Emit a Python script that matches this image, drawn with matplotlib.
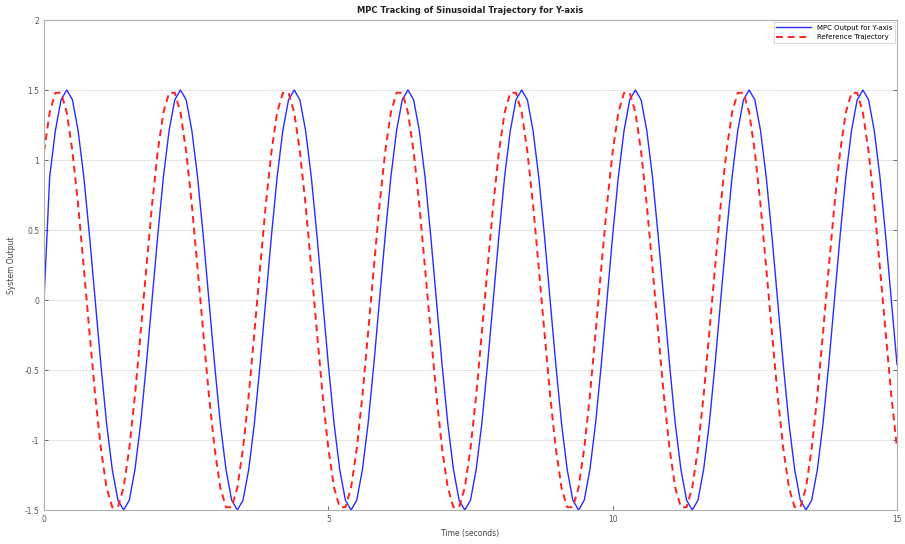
import numpy as np
import matplotlib
matplotlib.use("Agg")
import matplotlib.pyplot as plt

# Sample time grid (seconds)
t_start, t_end, n_samples = 0.0, 15.0, 151

# MPC output for Y-axis (0.1 s sampling)
mpc_output = [
    0.00, 0.88, 1.21, 1.43, 1.50, 1.43, 1.21, 0.88, 0.46, 0.00, -0.46, -0.88, -1.21, -1.43, -1.50, -1.43, -1.21, -0.88, -0.46, 0.00,
    0.46, 0.88, 1.21, 1.43, 1.50, 1.43, 1.21, 0.88, 0.46, 0.00, -0.46, -0.88, -1.21, -1.43, -1.50, -1.43, -1.21, -0.88, -0.46, 0.00,
    0.46, 0.88, 1.21, 1.43, 1.50, 1.43, 1.21, 0.88, 0.46, 0.00, -0.46, -0.88, -1.21, -1.43, -1.50, -1.43, -1.21, -0.88, -0.46, 0.00,
    0.46, 0.88, 1.21, 1.43, 1.50, 1.43, 1.21, 0.88, 0.46, 0.00, -0.46, -0.88, -1.21, -1.43, -1.50, -1.43, -1.21, -0.88, -0.46, 0.00,
    0.46, 0.88, 1.21, 1.43, 1.50, 1.43, 1.21, 0.88, 0.46, 0.00, -0.46, -0.88, -1.21, -1.43, -1.50, -1.43, -1.21, -0.88, -0.46, 0.00,
    0.46, 0.88, 1.21, 1.43, 1.50, 1.43, 1.21, 0.88, 0.46, 0.00, -0.46, -0.88, -1.21, -1.43, -1.50, -1.43, -1.21, -0.88, -0.46, 0.00,
    0.46, 0.88, 1.21, 1.43, 1.50, 1.43, 1.21, 0.88, 0.46, 0.00, -0.46, -0.88, -1.21, -1.43, -1.50, -1.43, -1.21, -0.88, -0.46, 0.00,
    0.46, 0.88, 1.21, 1.43, 1.50, 1.43, 1.21, 0.88, 0.46, 0.00, -0.46,
]

# Reference trajectory (0.1 s sampling)
reference = [
    1.06, 1.34, 1.48, 1.48, 1.34, 1.06, 0.68, 0.23, -0.23, -0.68, -1.06, -1.34, -1.48, -1.48, -1.34, -1.06, -0.68, -0.23, 0.23, 0.68,
    1.06, 1.34, 1.48, 1.48, 1.34, 1.06, 0.68, 0.23, -0.23, -0.68, -1.06, -1.34, -1.48, -1.48, -1.34, -1.06, -0.68, -0.23, 0.23, 0.68,
    1.06, 1.34, 1.48, 1.48, 1.34, 1.06, 0.68, 0.23, -0.23, -0.68, -1.06, -1.34, -1.48, -1.48, -1.34, -1.06, -0.68, -0.23, 0.23, 0.68,
    1.06, 1.34, 1.48, 1.48, 1.34, 1.06, 0.68, 0.23, -0.23, -0.68, -1.06, -1.34, -1.48, -1.48, -1.34, -1.06, -0.68, -0.23, 0.23, 0.68,
    1.06, 1.34, 1.48, 1.48, 1.34, 1.06, 0.68, 0.23, -0.23, -0.68, -1.06, -1.34, -1.48, -1.48, -1.34, -1.06, -0.68, -0.23, 0.23, 0.68,
    1.06, 1.34, 1.48, 1.48, 1.34, 1.06, 0.68, 0.23, -0.23, -0.68, -1.06, -1.34, -1.48, -1.48, -1.34, -1.06, -0.68, -0.23, 0.23, 0.68,
    1.06, 1.34, 1.48, 1.48, 1.34, 1.06, 0.68, 0.23, -0.23, -0.68, -1.06, -1.34, -1.48, -1.48, -1.34, -1.06, -0.68, -0.23, 0.23, 0.68,
    1.06, 1.34, 1.48, 1.48, 1.34, 1.06, 0.68, 0.23, -0.23, -0.68, -1.06,
]

x_ticks = [0, 5, 10, 15]
y_ticks = [-1.5, -1, -0.5, 0, 0.5, 1, 1.5, 2]
y_tick_labels = ["-1.5", "-1", "-0.5", "0", "0.5", "1", "1.5", "2"]

title = "MPC Tracking of Sinusoidal Trajectory for Y-axis"
xlabel = "Time (seconds)"
ylabel = "System Output"
series_labels = ["MPC Output for Y-axis", "Reference Trajectory"]

time = np.linspace(t_start, t_end, n_samples)

fig = plt.figure(figsize=(9.05, 5.44), dpi=100)
ax = fig.add_axes([44 / 905, 1 - 510 / 544, 853 / 905, 490 / 544])

ax.plot(time, mpc_output, color="#2b2bff", lw=1.0, label=series_labels[0])
ax.plot(time, reference, color="#ff2020", lw=1.4, ls=(0, (3.5, 2.5)), label=series_labels[1])

ax.set_xlim(0, 15)
ax.set_ylim(-1.5, 2)
ax.set_xticks(x_ticks)
ax.set_xticklabels([str(v) for v in x_ticks])
ax.set_yticks(y_ticks)
ax.set_yticklabels(y_tick_labels)
ax.tick_params(labelsize=5.5, colors="#555555", length=3, width=0.6, direction="in",
               right=True, top=False)
ax.yaxis.grid(True, color="#e6e6e6", lw=0.8)
ax.xaxis.grid(False)
for s in ax.spines.values():
    s.set_color("#b0b0b0")
    s.set_linewidth(0.8)

ax.set_title(title, fontsize=6, fontweight="bold", pad=5, color="#222222")
ax.set_xlabel(xlabel, fontsize=5.5, color="#444444", labelpad=4)
ax.set_ylabel(ylabel, fontsize=5.5, color="#444444", labelpad=6)

leg = ax.legend(loc="upper right", fontsize=5, frameon=True, fancybox=False,
                handlelength=5, borderaxespad=0.3, edgecolor="#c8c8c8")
leg.get_frame().set_linewidth(0.6)

fig.savefig("out.png", dpi=100)
